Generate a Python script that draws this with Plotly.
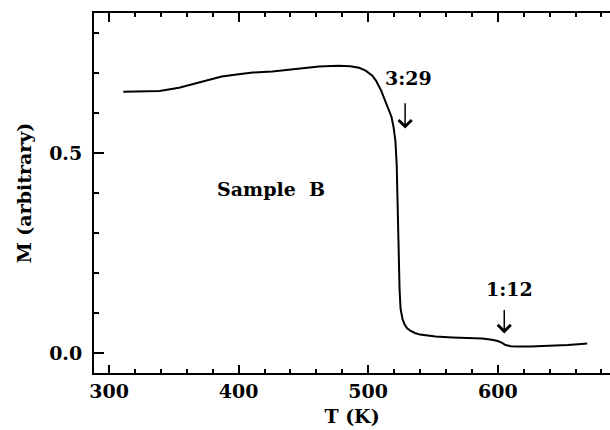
import plotly.graph_objects as go

# Data
T_K = [311, 325, 339, 354, 369, 387, 400, 411, 426, 444, 462, 477, 486, 493, 498,
       503, 506, 510, 513, 516, 518, 519.6, 521, 522, 522.6, 523.1, 523.5, 524.2,
       525, 526.5, 528, 530, 532.5, 536, 540, 546, 552, 565, 576, 588, 595.5, 600,
       603, 606, 610, 615, 625, 636, 645, 654, 662, 669]
M_arb = [0.653, 0.654, 0.655, 0.663, 0.675, 0.691, 0.697, 0.701, 0.704, 0.710, 0.716,
         0.718, 0.717, 0.713, 0.706, 0.694, 0.681, 0.656, 0.631, 0.608, 0.59, 0.564,
         0.53, 0.47, 0.381, 0.30, 0.214, 0.16, 0.110, 0.085, 0.072, 0.062, 0.056, 0.050,
         0.046, 0.043, 0.041, 0.039, 0.038, 0.036, 0.033, 0.030, 0.026, 0.020, 0.017,
         0.016, 0.016, 0.017, 0.018, 0.020, 0.022, 0.024]

x_ticks = [300, 400, 500, 600]
y_ticks = [0.0, 0.5]
y_tick_text = ["0.0", "0.5"]

labels = [
    {"text": "3:29", "x": 531, "y": 0.688},
    {"text": "1:12", "x": 609, "y": 0.161},
    {"text": "Sample\u00a0\u00a0B", "x": 425, "y": 0.41},
]
# arrows: x position, tail (top) and tip (bottom) in data units
arrow_x = [528.5, 605.0]
arrow_tail = [0.628, 0.111]
arrow_tip = [0.561, 0.049]

SERIF = "DejaVu Serif"
X_RANGE = [288.4, 686.6]
Y_RANGE = [-0.05, 0.85]

fig = go.Figure()
fig.add_trace(go.Scatter(x=T_K, y=M_arb, mode="lines",
                         line=dict(color="black", width=2), showlegend=False,
                         hoverinfo="skip"))
# invisible trace so the top axis is drawn
fig.add_trace(go.Scatter(x=[X_RANGE[0]], y=[M_arb[0]], xaxis="x2", mode="markers",
                         marker=dict(opacity=0), showlegend=False, hoverinfo="skip"))

for lb in labels:
    fig.add_annotation(x=lb["x"], y=lb["y"], text=lb["text"], showarrow=False,
                       font=dict(family=SERIF, size=19, color="black", weight="bold"),
                       xanchor="center", yanchor="middle")
for ax_, t0, t1 in zip(arrow_x, arrow_tail, arrow_tip):
    fig.add_annotation(x=ax_, y=t1, ax=ax_, ay=t0, axref="x", ayref="y",
                       xref="x", yref="y", text="", showarrow=True,
                       arrowhead=4, arrowsize=1.7, arrowwidth=1.5,
                       arrowcolor="black", standoff=0, startstandoff=0)

tick_common = dict(showgrid=False, zeroline=False, tickcolor="black", tickwidth=2)

fig.update_layout(
    width=610, height=430,
    margin=dict(l=94, r=0, t=13, b=57),
    paper_bgcolor="white", plot_bgcolor="white",
    font=dict(family=SERIF, color="black"),
    xaxis=dict(
        range=X_RANGE, showline=True, linecolor="black", linewidth=2,
        tickmode="array", tickvals=x_ticks, ticks="inside", ticklen=8,
        minor=dict(dtick=20, tick0=300, ticks="inside", ticklen=4, tickwidth=2,
                   tickcolor="black", showgrid=False),
        tickfont=dict(family=SERIF, size=19, color="black", weight="bold"),
        title=dict(text="T (K)", font=dict(family=SERIF, size=19, color="black",
                                           weight="bold"), standoff=9),
        **tick_common,
    ),
    xaxis2=dict(
        range=X_RANGE, overlaying="x", side="top", anchor="y",
        showline=True, linecolor="black", linewidth=2,
        tickmode="array", tickvals=x_ticks, ticks="inside", ticklen=9,
        minor=dict(dtick=20, tick0=300, ticks="inside", ticklen=4, tickwidth=2,
                   tickcolor="black", showgrid=False),
        showticklabels=False,
        **tick_common,
    ),
    yaxis=dict(
        range=Y_RANGE, showline=True, linecolor="black", linewidth=2,
        tickmode="array", tickvals=y_ticks, ticktext=y_tick_text,
        ticks="inside", ticklen=10,
        minor=dict(dtick=0.1, tick0=0, ticks="inside", ticklen=5, tickwidth=2,
                   tickcolor="black", showgrid=False),
        tickfont=dict(family=SERIF, size=19, color="black", weight="bold"),
        ticklabelstandoff=6,
        title=dict(text="M (arbitrary)", font=dict(family=SERIF, size=19,
                                                   color="black", weight="bold"),
                   standoff=12),
        **tick_common,
    ),
    yaxis2=dict(
        range=Y_RANGE, overlaying="y", side="right", anchor="x",
        showline=False, tickmode="array", tickvals=[0.0], ticks="inside",
        ticklen=6, showticklabels=False,
        **tick_common,
    ),
)

fig.write_html("out.html", config={"displayModeBar": False},
               post_script="document.body.style.margin='0px';"
                           "document.body.style.overflow='hidden';")
